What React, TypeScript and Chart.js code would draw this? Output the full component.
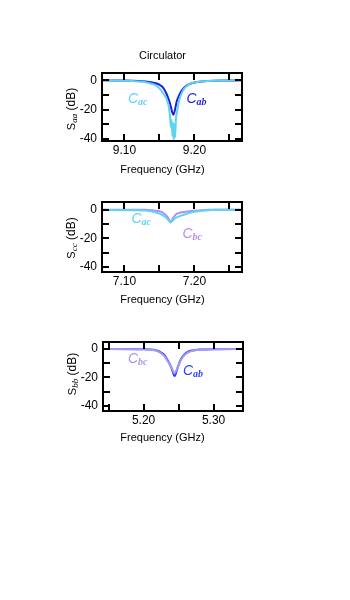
import React, { useEffect, useRef } from 'react';
import { Chart, registerables } from 'chart.js';
Chart.register(...registerables);

// ---------- Panel 1: S_aa around 9.17 GHz ----------
const p1AbFreq = [9.068, 9.10, 9.12, 9.13, 9.14, 9.145, 9.15, 9.155, 9.16, 9.165, 9.170, 9.175, 9.18, 9.185, 9.19, 9.195, 9.20, 9.21, 9.22, 9.24, 9.268];
const p1AbDb = [0, -0.2, -0.5, -0.8, -1.4, -2, -3, -4.8, -9, -15.5, -23.5, -14, -8.5, -5.2, -3.3, -2.2, -1.5, -0.8, -0.5, -0.2, 0];
const p1AcFreq = [9.068, 9.10, 9.12, 9.13, 9.14, 9.145, 9.15, 9.155, 9.16, 9.163, 9.165, 9.1665, 9.1675, 9.1685, 9.1695, 9.1705, 9.1715, 9.1725, 9.1735, 9.175, 9.178, 9.18, 9.185, 9.19, 9.195, 9.20, 9.21, 9.22, 9.24, 9.268];
const p1AcDb = [0, -0.3, -0.8, -1.3, -2.5, -3.5, -5.5, -8.5, -12.5, -17, -24, -32, -27, -38, -29, -41, -30, -39, -27, -22, -14, -11, -6, -3.5, -2.2, -1.4, -0.7, -0.4, -0.15, 0];
const p1XTicks = [9.10, 9.15, 9.20, 9.25];

// ---------- Panel 2: S_cc around 7.166 GHz ----------
const p2BcFreq = [7.068, 7.13, 7.14, 7.15, 7.155, 7.16, 7.163, 7.166, 7.169, 7.172, 7.176, 7.18, 7.19, 7.20, 7.21, 7.22, 7.268];
const p2BcDb = [0, 0, -0.3, -1.0, -2, -4, -6, -8.7, -6, -4, -2.5, -1.9, -1.2, -0.6, -0.2, 0, 0];
const p2AcFreq = [7.068, 7.12, 7.13, 7.14, 7.15, 7.155, 7.16, 7.166, 7.172, 7.18, 7.19, 7.20, 7.21, 7.22, 7.23, 7.268];
const p2AcDb = [0, -0.2, -0.5, -1.2, -2.6, -3.8, -5.5, -8.7, -6, -4.2, -2.5, -1.3, -0.6, -0.2, 0, 0];
const p2XTicks = [7.10, 7.15, 7.20, 7.25];

// ---------- Panel 3: S_bb around 5.244 GHz ----------
const p3AbFreq = [5.142, 5.20, 5.21, 5.215, 5.22, 5.225, 5.23, 5.235, 5.24, 5.2443, 5.249, 5.253, 5.258, 5.263, 5.27, 5.28, 5.30, 5.342];
const p3AbDb = [0, -0.1, -0.3, -0.6, -1.2, -2.5, -4.5, -8.5, -13.5, -19, -12.5, -7.5, -4, -2, -1, -0.4, -0.1, 0];
const p3BcFreq = [5.142, 5.20, 5.21, 5.215, 5.22, 5.225, 5.23, 5.235, 5.24, 5.244, 5.249, 5.253, 5.258, 5.263, 5.27, 5.28, 5.30, 5.342];
const p3BcDb = [0, -0.2, -0.5, -0.9, -1.6, -3, -5.2, -9, -13, -17, -12.5, -8, -4.5, -2.5, -1.2, -0.5, -0.15, 0];
const p3XTicks = [5.15, 5.20, 5.25, 5.30];

const yTicks = [0, -10, -20, -30, -40];

const xTitle = 'Frequency (GHz)';
const chartTitle = 'Circulator';

const C_AB1 = '#1e1ed8';
const C_AC = '#5cd4f2';
const C_BC2 = '#b48cf2';
const C_AB3 = '#2a40ff';
const C_BC3 = '#a898f6';

const SANS = '"Liberation Sans", Arial, sans-serif';
const SERIF = '"Liberation Serif", "Times New Roman", serif';

type Seg = { text: string; font: string; dy: number };

function drawSegs(ctx: CanvasRenderingContext2D, segs: Seg[], x: number, y: number, center: boolean) {
  let total = 0;
  const widths = segs.map(s => { ctx.font = s.font; const w = ctx.measureText(s.text).width; total += w; return w; });
  let cx = center ? x - total / 2 : x;
  segs.forEach((s, i) => { ctx.font = s.font; ctx.fillText(s.text, cx, y + s.dy); cx += widths[i]; });
}

type Ann = { main: string; sub: string; x: number; y: number; color: string };

type PanelProps = {
  top: number; height: number;
  area: { left: number; right: number; top: number; bottom: number };
  xMin: number; xMax: number; yMin: number; yMax: number;
  xTicks: number[];
  series: { freq: number[]; db: number[]; color: string }[];
  title?: string;
  yLabelSub: string; yLabelPos: { x: number; y: number };
  xTitleY: number;
  anns: Ann[];
};

function Panel(p: PanelProps) {
  const ref = useRef<HTMLCanvasElement>(null);
  useEffect(() => {
    const canvas = ref.current!;
    const deco = {
      id: 'deco',
      afterDraw(chart: any) {
        const { ctx, chartArea: a, scales } = chart;
        const x = scales.x, y = scales.y;
        ctx.save();
        ctx.strokeStyle = '#000';
        ctx.lineWidth = 2;
        ctx.strokeRect(a.left, a.top, a.right - a.left, a.bottom - a.top);
        const L = 7;
        ctx.beginPath();
        x.ticks.forEach((t: any) => {
          const px = Math.round(x.getPixelForValue(t.value));
          ctx.moveTo(px, a.bottom); ctx.lineTo(px, a.bottom - L);
          ctx.moveTo(px, a.top); ctx.lineTo(px, a.top + L);
        });
        y.ticks.forEach((t: any) => {
          const py = Math.round(y.getPixelForValue(t.value));
          ctx.moveTo(a.left, py); ctx.lineTo(a.left + L, py);
          ctx.moveTo(a.right, py); ctx.lineTo(a.right - L, py);
        });
        ctx.stroke();
        ctx.fillStyle = '#000';
        ctx.textBaseline = 'middle';
        ctx.textAlign = 'left';
        if (p.title) {
          drawSegs(ctx, [{ text: p.title, font: `11px ${SANS}`, dy: 0 }], 162.5, 15.7, true);
        }
        drawSegs(ctx, [{ text: xTitle, font: `11px ${SANS}`, dy: 0 }], 162.5, p.xTitleY, true);
        ctx.save();
        ctx.translate(p.yLabelPos.x, p.yLabelPos.y);
        ctx.rotate(-Math.PI / 2);
        drawSegs(ctx, [
          { text: 'S', font: `11px ${SANS}`, dy: 0 },
          { text: p.yLabelSub, font: `italic 9px ${SERIF}`, dy: 2.5 },
          { text: ' (dB)', font: `12px ${SANS}`, dy: 0 },
        ], 0, 0, true);
        ctx.restore();
        ctx.textBaseline = 'alphabetic';
        p.anns.forEach(an => {
          ctx.fillStyle = an.color;
          drawSegs(ctx, [
            { text: an.main, font: `italic 14px ${SANS}`, dy: 0 },
            { text: an.sub, font: `bold italic 10px ${SERIF}`, dy: 1.5 },
          ], an.x, an.y, false);
        });
        ctx.restore();
      },
    };
    const W = 350;
    const chart = new Chart(canvas, {
      type: 'line',
      data: {
        datasets: p.series.map(s => ({
          data: s.freq.map((f, i) => ({ x: f, y: s.db[i] })),
          borderColor: s.color,
          borderWidth: 2,
          pointRadius: 0,
          fill: false,
          cubicInterpolationMode: 'monotone' as const,
        })),
      },
      options: {
        responsive: false,
        animation: false,
        devicePixelRatio: 1,
        layout: { padding: { left: 0, top: p.area.top, right: W - p.area.right, bottom: 0 } },
        plugins: { legend: { display: false }, tooltip: { enabled: false }, title: { display: false } },
        scales: {
          x: {
            type: 'linear', min: p.xMin, max: p.xMax,
            grid: { display: false, drawTicks: false },
            border: { display: false },
            afterFit: (s: any) => { s.height = p.height - p.area.bottom; },
            afterBuildTicks: (s: any) => { s.ticks = p.xTicks.map(v => ({ value: v })); },
            ticks: {
              autoSkip: false, maxRotation: 0, minRotation: 0, padding: 2,
              color: '#000', font: { family: SANS, size: 12 },
              callback: (v: any) => (Math.round(Number(v) * 100) % 10 === 0 ? Number(v).toFixed(2) : ''),
            },
          },
          y: {
            type: 'linear', min: p.yMin, max: p.yMax,
            grid: { display: false, drawTicks: false },
            border: { display: false },
            afterFit: (s: any) => { s.width = p.area.left; },
            afterBuildTicks: (s: any) => { s.ticks = yTicks.map(v => ({ value: v })); },
            ticks: {
              autoSkip: false, padding: 5,
              color: '#000', font: { family: SANS, size: 12 },
              callback: (v: any) => (Math.round(Number(v)) % 20 === 0 ? String(Math.round(Number(v))) : ''),
            },
          },
        },
      },
      plugins: [deco],
    } as any);
    return () => chart.destroy();
  }, []);
  return (
    <div style={{ position: 'absolute', left: 0, top: p.top, width: 350, height: p.height }}>
      <canvas ref={ref} width={350} height={p.height} style={{ width: 350, height: p.height, display: 'block' }} />
    </div>
  );
}

export default function App() {
  return (
    <div style={{ position: 'absolute', left: 0, top: 0, width: 350, height: 600, background: '#fff' }}>
      <Panel
        top={40} height={141}
        area={{ left: 102, right: 242, top: 33, bottom: 101 }}
        xMin={9.068} xMax={9.268} yMin={-41.5} yMax={5}
        xTicks={p1XTicks}
        series={[
          { freq: p1AcFreq, db: p1AcDb, color: C_AC },
          { freq: p1AbFreq, db: p1AbDb, color: C_AB1 },
        ]}
        title={chartTitle}
        yLabelSub="aa" yLabelPos={{ x: 72, y: 69 }}
        xTitleY={130}
        anns={[
          { main: 'C', sub: 'ac', x: 128, y: 63.3, color: C_AC },
          { main: 'C', sub: 'ab', x: 186.5, y: 63.3, color: C_AB1 },
        ]}
      />
      <Panel
        top={180} height={132}
        area={{ left: 102, right: 242, top: 22, bottom: 92 }}
        xMin={7.068} xMax={7.268} yMin={-43.5} yMax={5.5}
        xTicks={p2XTicks}
        series={[
          { freq: p2AcFreq, db: p2AcDb, color: C_AC },
          { freq: p2BcFreq, db: p2BcDb, color: C_BC2 },
        ]}
        yLabelSub="cc" yLabelPos={{ x: 72, y: 58 }}
        xTitleY={120}
        anns={[
          { main: 'C', sub: 'ac', x: 131.5, y: 43.3, color: C_AC },
          { main: 'C', sub: 'bc', x: 182.5, y: 58.3, color: C_BC2 },
        ]}
      />
      <Panel
        top={320} height={131}
        area={{ left: 103, right: 243, top: 22, bottom: 91 }}
        xMin={5.142} xMax={5.342} yMin={-43.5} yMax={4.9}
        xTicks={p3XTicks}
        series={[
          { freq: p3BcFreq, db: p3BcDb, color: C_BC3 },
          { freq: p3AbFreq, db: p3AbDb, color: C_AB3 },
        ]}
        yLabelSub="bb" yLabelPos={{ x: 73, y: 54 }}
        xTitleY={117.7}
        anns={[
          { main: 'C', sub: 'bc', x: 128, y: 43.3, color: C_BC3 },
          { main: 'C', sub: 'ab', x: 183, y: 55, color: C_AB3 },
        ]}
      />
    </div>
  );
}
